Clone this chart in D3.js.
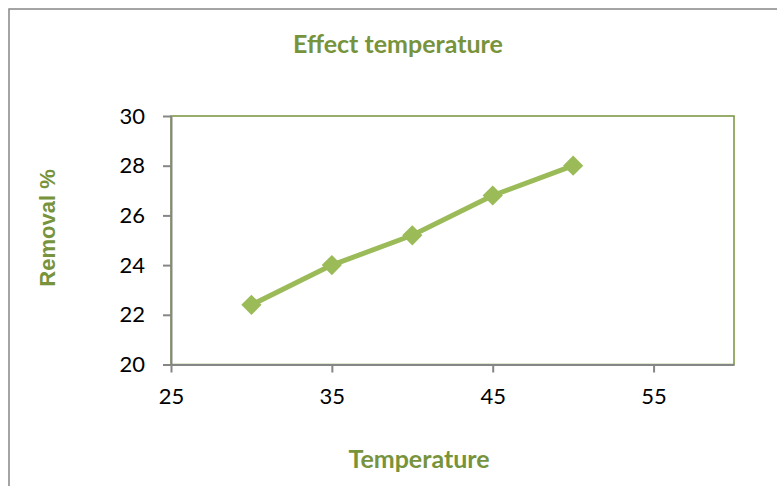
<!DOCTYPE html>
<html><head><meta charset="utf-8">
<script src="https://cdn.jsdelivr.net/npm/d3@7"></script>
<style>body{margin:0;background:#fff;} text{font-family:Lato,"Open Sans",sans-serif;}</style>
</head><body>
<svg id="c" width="777" height="486"></svg>
<script>
const temperature = [30, 35, 40, 45, 50];
const removal = [22.4, 24.0, 25.2, 26.8, 28.0];
const xTicks = [25, 35, 45, 55];
const yTicks = [20, 22, 24, 26, 28, 30];
const title = "Effect temperature";
const xLabel = "Temperature";
const yLabel = "Removal %";

const svg = d3.select("#c");
const green = "#9BBB59", dark = "#77933C", gray = "#868686";

svg.append("rect").attr("x", 9).attr("y", 9).attr("width", 800).attr("height", 500)
  .attr("fill", "#fff").attr("stroke", gray).attr("stroke-width", 1.5);

const L = 171, R = 734, T = 116, B = 364.5;
const x = d3.scaleLinear().domain([25, 60]).range([L, R]);
const y = d3.scaleLinear().domain([20, 30]).range([B, T]);

svg.append("rect").attr("x", L).attr("y", T).attr("width", R - L).attr("height", B - T)
  .attr("fill", "none").attr("stroke", dark).attr("stroke-width", 1.5);

const xa = svg.append("g").attr("transform", `translate(0,${B})`)
  .call(d3.axisBottom(x).tickValues(xTicks).tickSize(8).tickPadding(16).tickSizeOuter(0));
const ya = svg.append("g").attr("transform", `translate(${L},0)`)
  .call(d3.axisLeft(y).tickValues(yTicks).tickSize(8).tickPadding(18).tickSizeOuter(0));
[xa, ya].forEach(a => {
  a.select(".domain").attr("stroke", gray).attr("stroke-width", 2);
  a.selectAll(".tick line").attr("stroke", gray).attr("stroke-width", 2);
  a.selectAll(".tick text").attr("fill", "#000").style("font-size", "22px")
    .style("font-family", "Lato, 'Open Sans', sans-serif");
});

const data = temperature.map((t, i) => ({t, r: removal[i]}));
svg.append("path").datum(data)
  .attr("d", d3.line().x(d => x(d.t)).y(d => y(d.r)))
  .attr("fill", "none").attr("stroke", green).attr("stroke-width", 5).attr("stroke-linejoin", "round");
svg.selectAll(".m").data(data).enter().append("path")
  .attr("transform", d => `translate(${x(d.t)},${y(d.r)})`)
  .attr("d", d3.symbol().type(d3.symbolDiamond2).size(260)).attr("fill", green);

svg.append("text").attr("x", 398).attr("y", 52.5).attr("text-anchor", "middle")
  .attr("fill", dark).style("font-size", "25px").style("font-weight", "bold").text(title);
svg.append("text").attr("x", 419).attr("y", 468).attr("text-anchor", "middle")
  .attr("fill", dark).style("font-size", "25px").style("font-weight", "bold").text(xLabel);
svg.append("text").attr("transform", "translate(55,228) rotate(-90)").attr("text-anchor", "middle")
  .attr("fill", dark).style("font-size", "22px").style("font-weight", "bold")
  .style("font-family", "'Liberation Sans', Arial, sans-serif").text(yLabel);
</script>
</body></html>
